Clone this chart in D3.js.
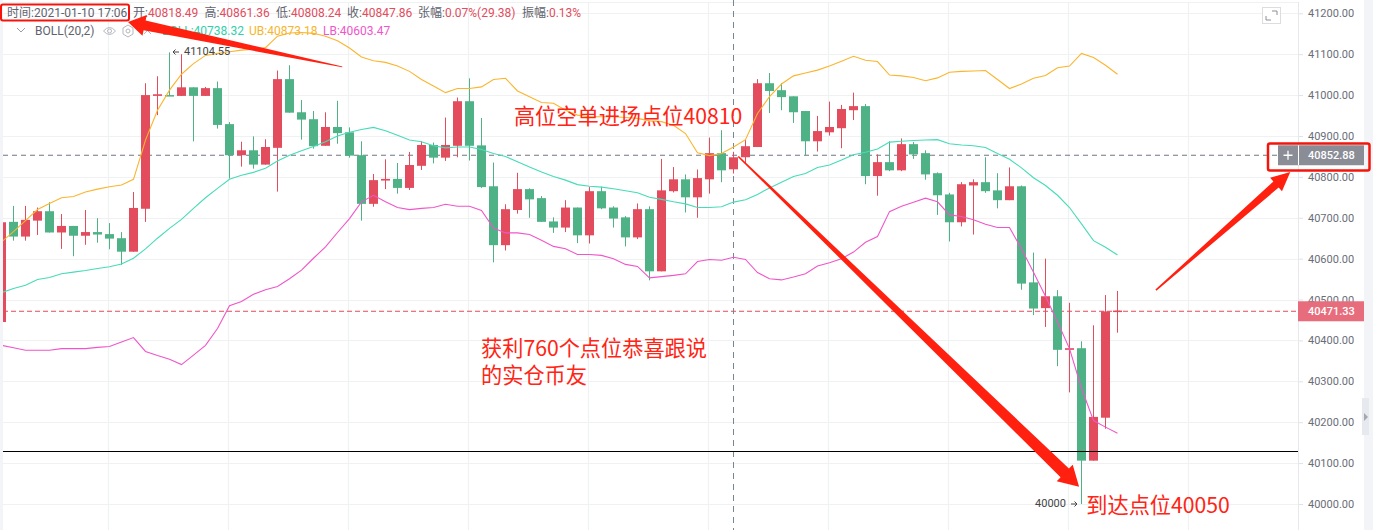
<!DOCTYPE html>
<html>
<head>
<meta charset="utf-8">
<script src="https://cdn.jsdelivr.net/npm/d3@7"></script>
<style>
html, body { margin: 0; padding: 0; background: #fff; overflow: hidden; }
text { font-family: Roboto, "Noto Sans CJK SC", sans-serif; }
.note { font-family: "Noto Sans CJK SC", sans-serif; font-size: 21.2px; fill: #ff2414; dominant-baseline: middle; }
</style>
</head>
<body>
<div id="chart"></div>
<script>
const opens = [
  40445,40690,40654,40693,40716,40664,40680,40656,40665,40660,
  40650,40617,40722,40998,41000,40998,41019,40998,41017,40929,
  40853,40865,40830,40871,41039,40958,40941,40876,40922,40909,
  40853,40734,40791,40795,40773,40827,40878,40847,40876,40985,
  40877,40777,40633,40719,40770,40748,40691,40676,40725,40657,
  40765,40725,40701,40652,40721,40569,40765,40794,40750,40794,
  40858,40818.49,40848,40873,41029,41012,40997,40961,40887,40909,
  40919,40963,40973,40802,40836,40816,40880,40858,40809,40757,
  40689,40779,40787,40767,40743,40777,40542,40479,40508,40377,
  40381,40106,40211,40470.5];
const closes = [
  40689,40654,40695,40716,40664,40680,40656,40665,40659,40649,
  40617,40724,41000,41002,40998,41019,40998,41017,40927,40853,
  40865,40830,40873,41039,40957,40940,40875,40922,40907,40852,
  40734,40792,40795,40773,40829,40878,40847,40878,40985,40876,
  40775,40633,40721,40770,40745,40690,40676,40725,40657,40765,
  40723,40698,40652,40721,40569,40767,40794,40750,40797,40858,
  40816,40847.86,40875,41029,41010,40995,40958,40887,40912,40922,
  40966,40973,40802,40836,40816,40880,40855,40806,40755,40689,
  40782,40787,40765,40743,40777,40539,40478,40508,40377,40381,
  40106,40213,40471,40473];
const highs = [
  40689,40729,40729,40725,40738,40709,40680,40719,40699,40687,
  40665,40763,41029,41046,41104.55,41100,41019,41020,41033,40934,
  40886,40899,40892,41060,41073,40988,40961,40958,40986,40921,
  40887,40807,40843,40834,40861,40887,40884,40945,40994,41041,
  40944,40835,40733,40810,40772,40753,40701,40743,40725,40775,
  40776,40728,40704,40735,40728,40844,40824,40806,40818,40896,
  40914,40861.36,40890,41039,41054,41029,40997,40961,40949,40984,
  40976,41006,40978,40855,40887,40894,40885,40865,40811,40761,
  40787,40794,40848,40809,40823,40779,40615,40600,40523,40492,
  40398,40437,40511,40521];
const lows = [
  40445,40644,40644,40658,40664,40624,40606,40634,40639,40623,
  40585,40617,40690,40951,40998,40998,40887,40998,40918,40796,
  40825,40820,40830,40764,40957,40891,40869,40876,40881,40847,
  40693,40727,40770,40759,40768,40817,40833,40839,40848,40840,
  40773,40591,40620,40710,40700,40690,40663,40665,40638,40637,
  40721,40676,40630,40648,40547,40569,40762,40713,40700,40759,
  40787,40808.24,40833,40873,40956,40963,40932,40853,40862,40901,
  40870,40939,40782,40754,40814,40814,40844,40793,40707,40642,
  40679,40659,40761,40723,40743,40524,40462,40433,40337,40273,
  40000,40106,40184,40419];
const upper = [
  40641,40666,40693,40720,40735,40749,40752,40763,40770,40776,
  40780,40794,40890,40963,41012,41051,41077,41097,41102,41106,
  41110,41112,41116,41144,41152,41153,41151,41144,41133,41115,
  41093,41084,41080,41071,41058,41038,41022,41006,41016,41016,
  41020,41038,41041,41010,40996,40982,40980,40963,40951,40947,
  40947,40947,40945,40943,40937,40935,40926,40906,40859,40852,
  40857,40873.18,40891,40955,40996,41027,41047,41054,41061,41071,
  41083,41095,41085,41082,41049,41047,41043,41035,41042,41056,
  41058,41059,41060,41038,41016,41027,41041,41048,41067,41071,
  41102,41092,41073,41051];
const middle = [
  40517,40527,40535,40549,40554,40563,40567,40571,40576,40580,
  40587,40601,40624,40650,40674,40696,40723,40749,40772,40794,
  40804,40811,40821,40839,40853,40864,40874,40886,40900,40909,
  40916,40921,40913,40902,40890,40886,40876,40871,40873,40873,
  40867,40857,40850,40837,40824,40812,40801,40792,40781,40777,
  40775,40771,40766,40761,40750,40745,40739,40734,40725,40725,
  40727,40738.32,40744,40757,40773,40787,40801,40808,40823,40829,
  40841,40854,40860,40868,40885,40887,40889,40890,40891,40881,
  40878,40876,40872,40857,40843,40822,40798,40779,40755,40725,
  40685,40644,40628,40609];
const lower = [
  40388,40382,40376,40376,40376,40380,40380,40380,40383,40385,
  40396,40407,40373,40363,40354,40341,40364,40388,40429,40485,
  40495,40513,40524,40532,40551,40572,40601,40629,40664,40698,
  40739,40755,40739,40725,40720,40723,40725,40733,40728,40728,
  40718,40675,40663,40663,40659,40645,40630,40624,40610,40610,
  40608,40600,40586,40581,40553,40556,40559,40563,40593,40598,
  40596,40603.47,40598,40566,40551,40548,40555,40563,40582,40590,
  40600,40616,40640,40654,40715,40728,40738,40748,40739,40707,
  40703,40695,40684,40676,40676,40624,40567,40508,40445,40380,
  40283,40204,40188,40173];

const priceTicks = [40000,40100,40200,40300,40400,40500,40600,40700,40800,40900,41000,41100,41200];
const gridBars = [9,19,29,39,49,59,69,79,89,99];
const lastPrice = 40471.33;
const crossPrice = 40852.88;
const crossBar = 61;
const supportPrice = 40130;

const width = 1373;
const height = 530;
const plotLeft = 3;
const plotRight = 1298;
const stripLeft = 1364;
const red = "#e24c5c";
const green = "#4fb286";
const grey = "#5f636e";

const x = d3.scaleLinear().domain([0, 93]).range([1.5, 1117.5]);
const y = d3.scaleLinear().domain([40000, 41200]).range([504, 13.3]);

const svg = d3.select("#chart").append("svg")
    .attr("width", width)
    .attr("height", height)
    .style("display", "block");

svg.append("clipPath").attr("id", "plot")
    .append("rect")
    .attr("x", plotLeft).attr("y", 0)
    .attr("width", plotRight - plotLeft).attr("height", height);

// side strips
svg.append("rect").attr("width", plotLeft).attr("height", height).attr("fill", "#f3f4f8");
svg.append("rect").attr("x", stripLeft).attr("width", width - stripLeft).attr("height", height).attr("fill", "#f3f4f8");
svg.append("rect").attr("x", 1362).attr("y", 398).attr("width", 7).attr("height", 37).attr("fill", "#e6e9ee");
svg.append("path").attr("d", "M1364 413l4 4l-4 4z").attr("fill", "#a4a8b0");

// grid
const grid = svg.append("g").attr("clip-path", "url(#plot)");
grid.selectAll(".h").data(priceTicks).enter().append("line")
    .attr("x1", plotLeft).attr("x2", plotRight)
    .attr("y1", d => Math.round(y(d)) + 0.5).attr("y2", d => Math.round(y(d)) + 0.5)
    .attr("stroke", "#f0f1f3").attr("stroke-width", 1.2);
grid.selectAll(".v").data(gridBars).enter().append("line")
    .attr("x1", d => x(d) - 1).attr("x2", d => x(d) - 1)
    .attr("y1", 2).attr("y2", height)
    .attr("stroke", "#f0f1f3").attr("stroke-width", 1.2);
grid.append("line").attr("x1", plotLeft).attr("x2", stripLeft).attr("y1", 2.5).attr("y2", 2.5)
    .attr("stroke", "#f0f1f3");

// crosshair and last price lines sit behind the candles
grid.append("line")
    .attr("x1", plotLeft).attr("x2", plotRight)
    .attr("y1", y(crossPrice)).attr("y2", y(crossPrice))
    .attr("stroke", "#6f7684").attr("stroke-dasharray", "5,4");
grid.append("line")
    .attr("x1", plotLeft).attr("x2", plotRight)
    .attr("y1", y(lastPrice)).attr("y2", y(lastPrice))
    .attr("stroke", "#e2495b").attr("stroke-dasharray", "5,3");
grid.append("line")
    .attr("x1", x(crossBar)).attr("x2", x(crossBar))
    .attr("y1", 0).attr("y2", height)
    .attr("stroke", "#758696").attr("stroke-dasharray", "6,5");

// candles
const candles = svg.append("g").attr("clip-path", "url(#plot)");
const bars = opens.map((o, i) => ({i: i, o: o, c: closes[i], h: highs[i], l: lows[i]}));
candles.selectAll(".wick").data(bars).enter().append("rect")
    .attr("x", d => x(d.i) - 0.5)
    .attr("width", 1)
    .attr("y", d => y(d.h))
    .attr("height", d => y(d.l) - y(d.h))
    .attr("fill", d => d.c >= d.o ? red : green);
candles.selectAll(".body").data(bars).enter().append("rect")
    .attr("x", d => x(d.i) - 4.5)
    .attr("width", 9)
    .attr("y", d => y(Math.max(d.o, d.c)))
    .attr("height", d => Math.max(1.5, Math.abs(y(d.o) - y(d.c))))
    .attr("fill", d => d.c >= d.o ? red : green);

// BOLL lines
const bollLine = d3.line().x((d, i) => x(i)).y(d => y(d));
[[upper, "#fbb52d"], [middle, "#46dcb8"], [lower, "#f056c9"]].forEach(s => {
    candles.append("path")
        .attr("d", bollLine(s[0]))
        .attr("fill", "none")
        .attr("stroke", s[1])
        .attr("stroke-width", 1.1);
});

// support line drawn on the chart
svg.append("line")
    .attr("x1", plotLeft).attr("x2", plotRight)
    .attr("y1", Math.round(y(supportPrice)) + 0.5).attr("y2", Math.round(y(supportPrice)) + 0.5)
    .attr("stroke", "#000").attr("stroke-width", 1);

// price axis
const yAxis = d3.axisRight(y)
    .tickValues(priceTicks)
    .tickFormat(d3.format(".2f"))
    .tickSize(5)
    .tickPadding(5);
const axisG = svg.append("g")
    .attr("transform", `translate(${plotRight},0)`)
    .call(yAxis);
axisG.select(".domain").remove();
axisG.selectAll("line").attr("stroke", "#dfe2e7");
axisG.selectAll("text").attr("fill", "#6a6e78").style("font-size", "11px").style("letter-spacing", "0");
svg.append("line").attr("x1", plotRight + 0.5).attr("x2", plotRight + 0.5).attr("y1", 2).attr("y2", height)
    .attr("stroke", "#e6e8ec");

// last price and crosshair tags
function priceTag(price, left, fill) {
    const t = svg.append("g").attr("transform", `translate(0,${y(price)})`);
    t.append("rect").attr("x", left).attr("y", -10).attr("width", stripLeft - left).attr("height", 20).attr("fill", fill);
    t.append("text").attr("x", plotRight + 10).attr("dy", "0.35em")
        .attr("fill", "#fff").style("font-size", "11px").style("font-weight", 500)
        .text(d3.format(".2f")(price));
    return t;
}
priceTag(lastPrice, plotRight, "#e76d7d");
const crossTag = priceTag(crossPrice, 1278, "#8a8d96");
crossTag.append("line").attr("x1", plotRight + 0.5).attr("x2", plotRight + 0.5).attr("y1", -10).attr("y2", 10).attr("stroke", "#fff");
crossTag.append("path").attr("d", "M1288 -4.5v9M1283.5 0h9").attr("stroke", "#fff").attr("stroke-width", 1.3);

// header legend
const legendLabels = ["开:", "高:", "低:", "收:", "张幅:", "振幅:"];
const legendValues = ["40818.49", "40861.36", "40808.24", "40847.86", "0.07%(29.38)", "0.13%"];
const legendStarts = [133, 204.5, 276, 347, 418, 522];
const header = svg.append("g").style("font-size", "12px");
header.append("text").attr("x", 7).attr("y", 17).attr("fill", grey).text("时间:2021-01-10 17:06");
legendLabels.forEach((label, i) => {
    const t = header.append("text").attr("x", legendStarts[i]).attr("y", 17).attr("fill", grey);
    t.append("tspan").text(label);
    t.append("tspan").attr("fill", red).text(legendValues[i]);
});

const boll = svg.append("g").style("font-size", "12px");
boll.append("path").attr("d", "M17 28l4 4l4 -4").attr("fill", "none").attr("stroke", "#9a9da6");
boll.append("text").attr("x", 35).attr("y", 35).attr("fill", grey).text("BOLL(20,2)");
boll.append("path").attr("d", "M103.5 31q6 -7 12 0q-6 7 -12 0z").attr("fill", "none").attr("stroke", "#b4b7be");
boll.append("circle").attr("cx", 109.5).attr("cy", 31).attr("r", 2).attr("fill", "none").attr("stroke", "#b4b7be");
boll.append("path").attr("d", "M128 25l5 3v6l-5 3l-5 -3v-6z").attr("fill", "none").attr("stroke", "#b4b7be");
boll.append("circle").attr("cx", 128).attr("cy", 31).attr("r", 2).attr("fill", "none").attr("stroke", "#b4b7be");
boll.append("path").attr("d", "M144 27l7 7M151 27l-7 7").attr("stroke", "#b4b7be");
boll.append("text").attr("x", 162).attr("y", 35).attr("fill", "#2fd0ab").text("BOLL:40738.32");
boll.append("text").attr("x", 249).attr("y", 35).attr("fill", "#f6b52d").text("UB:40873.18");
boll.append("text").attr("x", 323).attr("y", 35).attr("fill", "#f056c9").text("LB:40603.47");

// fullscreen button
const full = svg.append("g");
full.append("rect").attr("x", 1262.5).attr("y", 7.5).attr("width", 18).attr("height", 16).attr("fill", "#fff").attr("stroke", "#dcdde0");
full.append("path").attr("d", "M1266 16v4h5M1272 11h5v4").attr("fill", "none").attr("stroke", "#8d9098");

// high and low marks
svg.append("path").attr("d", "M173 52h6M175.5 49.5l-2.5 2.5l2.5 2.5").attr("fill", "none").attr("stroke", "#444");
svg.append("text").attr("x", 184).attr("y", 55).attr("fill", "#444").style("font-size", "11px").text("41104.55");
svg.append("text").attr("x", 1066).attr("y", 507).attr("text-anchor", "end").attr("fill", "#444").style("font-size", "11px").text("40000");
svg.append("path").attr("d", "M1071 504h6M1074.5 501.5l2.5 2.5l-2.5 2.5").attr("fill", "none").attr("stroke", "#444");

// hand drawn notes on top of the chart, placed as [bar, price]
const noteTexts = [
    ["高位空单进场点位40810", 42.7, 40944],
    ["获利760个点位恭喜跟说", 39.96, 40375],
    ["的实仓币友", 39.96, 40309],
    ["到达点位40050", 90.4, 39993]
];
svg.selectAll(".note").data(noteTexts).enter().append("text")
    .attr("class", "note")
    .attr("x", d => x(d[1]))
    .attr("y", d => y(d[2]))
    .text(d => d[0]);

const noteArrows = [
    {tail: [28.4, 41069], tip: [10.54, 41179], start: 1, shaft: 10, head: 17, wing: 21},
    {tail: [61.4, 40850], tip: [89.8, 40042], start: 1.5, shaft: 12, head: 20, wing: 23},
    {tail: [96.2, 40523], tip: [107.4, 40812], start: 1.5, shaft: 8, head: 19, wing: 18}
];
function arrowPath(a) {
    const x0 = x(a.tail[0]), y0 = y(a.tail[1]), x1 = x(a.tip[0]), y1 = y(a.tip[1]);
    const len = Math.hypot(x1 - x0, y1 - y0);
    const ux = (x1 - x0) / len, uy = (y1 - y0) / len;
    const px = -uy, py = ux;
    const bx = x1 - ux * a.head, by = y1 - uy * a.head;
    const pts = [
        [x0 + px * a.start / 2, y0 + py * a.start / 2],
        [bx + px * a.shaft / 2, by + py * a.shaft / 2],
        [bx + px * a.wing / 2, by + py * a.wing / 2],
        [x1, y1],
        [bx - px * a.wing / 2, by - py * a.wing / 2],
        [bx - px * a.shaft / 2, by - py * a.shaft / 2],
        [x0 - px * a.start / 2, y0 - py * a.start / 2]
    ];
    return d3.line()(pts) + "Z";
}
svg.selectAll(".arrow").data(noteArrows).enter().append("path")
    .attr("d", arrowPath)
    .attr("fill", "#ff2010");

// red boxes around the time and the crosshair price
svg.append("rect").attr("x", 1).attr("y", 4.5).attr("width", 128).attr("height", 16)
    .attr("rx", 2).attr("fill", "none").attr("stroke", "#f5140c").attr("stroke-width", 2);
svg.append("rect").attr("x", 1268).attr("y", 143.5).attr("width", 101.5).attr("height", 27)
    .attr("rx", 2).attr("fill", "none").attr("stroke", "#f5140c").attr("stroke-width", 2.5);
</script>
</body>
</html>
